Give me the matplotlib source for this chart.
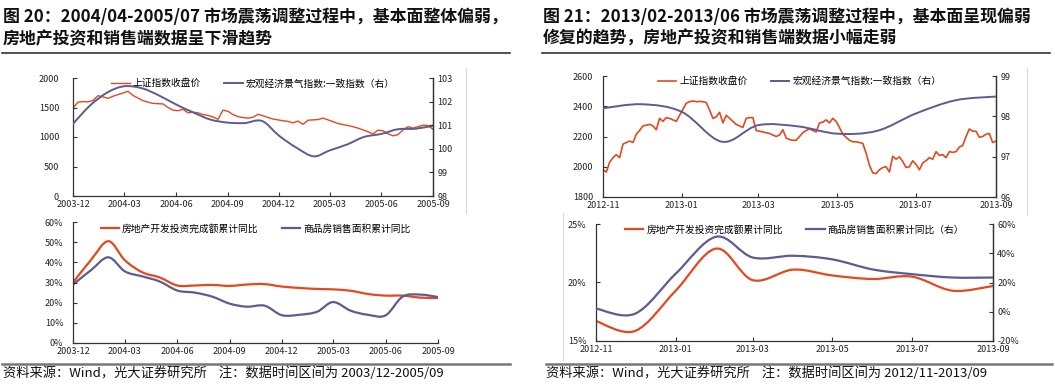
import numpy as np
import pandas as pd
import matplotlib
matplotlib.use('Agg')
import matplotlib.pyplot as plt
import matplotlib.dates as mdates
from matplotlib.path import Path
from matplotlib.patches import PathPatch
from matplotlib.lines import Line2D
from matplotlib.ticker import FuncFormatter, MultipleLocator

plt.rcParams['font.family'] = ['Noto Sans CJK SC', 'DejaVu Sans']

W, H = 1055, 386
RED = '#e2491f'
BLUE = '#5d5b8f'
TXT = '#222222'

# ---------------- data: figure 20 (2003-12 .. 2005-09) ----------------
sse_left = [1490, 1590, 1600, 1595, 1620, 1700, 1680, 1655, 1690, 1720, 1745, 1775,
            1705, 1660, 1615, 1590, 1570, 1565, 1560, 1500, 1455, 1445, 1470, 1410,
            1420, 1410, 1380, 1365, 1340, 1300, 1455, 1435, 1380, 1345, 1330, 1320,
            1335, 1385, 1360, 1330, 1305, 1290, 1275, 1265, 1240, 1270, 1215, 1285,
            1290, 1295, 1320, 1290, 1260, 1230, 1210, 1195, 1175, 1150, 1120, 1090,
            1050, 1115, 1105, 1055, 1020, 1040, 1120, 1175, 1150, 1175, 1200, 1195, 1130]
macro_left = [101.06, 101.85, 102.40, 102.65, 102.57, 102.27, 101.88, 101.55, 101.24,
              101.11, 101.09, 101.18, 100.56, 100.05, 99.68, 99.93, 100.18, 100.50,
              100.63, 100.83, 100.85, 100.98]
invest_left = [30, 41, 50.5, 41, 35, 32.5, 28.5, 28.5, 28.8, 28.3, 29, 29.2, 28, 27.3,
               26.8, 26.6, 25.9, 24.3, 23.5, 23.5, 22.5, 22.3]
sales_left = [29, 36, 42.5, 35.5, 33, 30.5, 26, 25, 23, 19.5, 18, 18.5, 13.8, 14, 15.5,
              20.3, 16, 14, 13.7, 23, 24, 22.8]

# ---------------- data: figure 21 (2012-11 .. 2013-09) ----------------
sse_right = [1980, 1965, 2030, 2060, 2080, 2060, 2150, 2160, 2170, 2160, 2215, 2240,
             2270, 2275, 2280, 2270, 2245, 2320, 2300, 2325, 2320, 2310, 2300, 2340,
             2380, 2420, 2430, 2435, 2430, 2432, 2430, 2425, 2375, 2320, 2330, 2360,
             2290, 2340, 2320, 2300, 2280, 2270, 2260, 2320, 2325, 2325, 2240, 2235,
             2230, 2225, 2220, 2210, 2200, 2210, 2245, 2190, 2180, 2175, 2175, 2200,
             2225, 2240, 2250, 2240, 2230, 2290, 2295, 2310, 2290, 2320, 2300, 2260,
             2215, 2195, 2175, 2165, 2165, 2160, 2155, 2090, 2010, 1960, 1955, 1980,
             1995, 2000, 1965, 2070, 2050, 2065, 2035, 1995, 2000, 2040, 2015, 1980,
             2025, 2040, 2060, 2050, 2100, 2075, 2080, 2060, 2100, 2095, 2100, 2130,
             2140, 2200, 2250, 2235, 2235, 2195, 2200, 2215, 2220, 2160, 2170]
macro_right = [98.20, 98.30, 98.11, 97.37, 97.78, 97.75, 97.57, 97.64, 98.07, 98.40, 98.49]
invest_right = [16.7, 15.86, 19.3, 22.9, 20.2, 21.1, 20.6, 20.3, 20.5, 19.3, 19.7]
sales_right = [2.2, -1.3, 26, 51.3, 37.1, 38.3, 35.8, 28.9, 25.7, 23.4, 23.4]

months_left = pd.date_range('2003-12-01', periods=len(macro_left), freq='MS')
months_right = pd.date_range('2012-11-01', periods=len(macro_right), freq='MS')
days_left = pd.date_range('2003-12-01', '2005-09-01', periods=len(sse_left))
days_right = pd.date_range('2012-11-01', '2013-09-01', periods=len(sse_right))
ticks_left = pd.date_range('2003-12-01', '2005-09-01', freq='3MS')
ticks_right = pd.date_range('2012-11-01', '2013-09-01', freq='2MS')

fig = plt.figure(figsize=(W / 100, H / 100), dpi=100)


def rect(x0, y0, x1, y1):
    return [x0 / W, 1 - y1 / H, (x1 - x0) / W, (y1 - y0) / H]


def hline(x0, x1, y, color, lw):
    fig.add_artist(Line2D([x0 / W, x1 / W], [1 - y / H, 1 - y / H], color=color, lw=lw))


def vline(x, y0, y1, color, lw):
    fig.add_artist(Line2D([x / W, x / W], [1 - y0 / H, 1 - y1 / H], color=color, lw=lw))


def smooth(ax, dates, vals, color, lw):
    # Excel-style smoothed line drawn as cubic bezier through the monthly points
    x = mdates.date2num(pd.to_datetime(dates))
    y = np.asarray(vals, float)
    n = len(x)
    verts = [(x[0], y[0])]
    codes = [Path.MOVETO]
    for i in range(n - 1):
        a = i - 1 if i > 0 else i
        b = i + 2 if i + 2 < n else i + 1
        verts.append((x[i] + (x[i + 1] - x[a]) / 6, y[i] + (y[i + 1] - y[a]) / 6))
        verts.append((x[i + 1] - (x[b] - x[i]) / 6, y[i + 1] - (y[b] - y[i]) / 6))
        verts.append((x[i + 1], y[i + 1]))
        codes += [Path.CURVE4] * 3
    ax.add_patch(PathPatch(Path(verts, codes), fc='none', ec=color, lw=lw,
                           joinstyle='round', capstyle='round'))
    return Line2D([], [], color=color, lw=lw)


def style(ax, ticks, xlim, left_pad=5, right=False):
    ax.set_xlim(xlim)
    ax.set_xticks(ticks)
    ax.xaxis.set_major_formatter(mdates.DateFormatter('%Y-%m'))
    ax.spines['top'].set_visible(False)
    ax.spines['right'].set_visible(right)
    for s in ax.spines.values():
        s.set_color('#333333')
        s.set_linewidth(0.9)
    ax.tick_params(direction='in', length=3, width=0.8, colors='#333333',
                   labelsize=6.5, labelcolor=TXT)
    ax.tick_params(axis='y', pad=left_pad)
    ax.tick_params(axis='x', pad=3)
    ax.set_facecolor('none')


def style_twin(ax2):
    for s in ax2.spines.values():
        s.set_visible(False)
    ax2.spines['right'].set_visible(True)
    ax2.spines['right'].set_color('#333333')
    ax2.spines['right'].set_linewidth(0.9)
    ax2.tick_params(direction='in', length=3, width=0.8, colors='#333333',
                    labelsize=6.5, labelcolor=TXT, pad=3)


def legend(ax, handles, labels, y):
    ax.legend(handles, labels, loc='upper center', bbox_to_anchor=(0.5, y), ncol=2,
              frameon=False, fontsize=7, handlelength=1.9, handletextpad=0.3,
              columnspacing=2.4, borderaxespad=0)


pct = FuncFormatter(lambda v, p: f'{v:.0f}%')

# ---------------- figure 20, top ----------------
xl = (pd.Timestamp('2003-12-01'), pd.Timestamp('2005-09-01'))
ax = fig.add_axes(rect(73, 78, 433, 196))
style(ax, ticks_left, xl, left_pad=10, right=True)
ax.set_ylim(0, 2000)
ax.yaxis.set_major_locator(MultipleLocator(500))
h1, = ax.plot(days_left, sse_left, color=RED, lw=1.0)
ax2 = ax.twinx()
style_twin(ax2)
ax2.set_xlim(xl)
ax2.set_ylim(98, 103)
ax2.yaxis.set_major_locator(MultipleLocator(1))
h2 = smooth(ax2, months_left, macro_left, BLUE, 1.4)
legend(ax2, [h1, h2], ['上证指数收盘价', '宏观经济景气指数:一致指数（右）'], 1.03)

# ---------------- figure 20, bottom ----------------
ax = fig.add_axes(rect(73, 222, 438, 343))
style(ax, ticks_left, xl, left_pad=7)
ax.set_ylim(0, 60)
ax.yaxis.set_major_locator(MultipleLocator(10))
ax.yaxis.set_major_formatter(pct)
h1 = smooth(ax, months_left, invest_left, RED, 1.6)
h2 = smooth(ax, months_left, sales_left, BLUE, 1.6)
legend(ax, [h1, h2], ['房地产开发投资完成额累计同比', '商品房销售面积累计同比'], 1.02)

# ---------------- figure 21, top ----------------
xr = (pd.Timestamp('2012-11-01'), pd.Timestamp('2013-09-01'))
ax = fig.add_axes(rect(603, 76, 996, 197))
style(ax, ticks_right, xr, left_pad=7, right=True)
ax.set_ylim(1800, 2600)
ax.yaxis.set_major_locator(MultipleLocator(200))
h1, = ax.plot(days_right, sse_right, color=RED, lw=1.2)
ax2 = ax.twinx()
style_twin(ax2)
ax2.set_xlim(xr)
ax2.set_ylim(96, 99)
ax2.yaxis.set_major_locator(MultipleLocator(1))
h2 = smooth(ax2, months_right, macro_right, BLUE, 1.4)
legend(ax2, [h1, h2], ['上证指数收盘价', '宏观经济景气指数:一致指数（右）'], 1.03)

# ---------------- figure 21, bottom ----------------
ax = fig.add_axes(rect(596, 224, 993, 341))
style(ax, ticks_right, xr, left_pad=7, right=True)
ax.set_ylim(15, 25)
ax.yaxis.set_major_locator(MultipleLocator(5))
ax.yaxis.set_major_formatter(pct)
h1 = smooth(ax, months_right, invest_right, RED, 1.6)
ax2 = ax.twinx()
style_twin(ax2)
ax2.set_xlim(xr)
ax2.set_ylim(-20, 60)
ax2.yaxis.set_major_locator(MultipleLocator(20))
ax2.yaxis.set_major_formatter(pct)
h2 = smooth(ax2, months_right, sales_right, BLUE, 1.6)
legend(ax2, [h1, h2], ['房地产开发投资完成额累计同比', '商品房销售面积累计同比（右）'], 1.03)

# ---------------- titles, rules and notes ----------------
tkw = dict(fontsize=12.2, fontweight='bold', color='#111111', va='center', ha='left')
fig.text(3 / W, 1 - 17 / H, '图 20：2004/04-2005/07 市场震荡调整过程中，基本面整体偏弱，', **tkw)
fig.text(3 / W, 1 - 39 / H, '房地产投资和销售端数据呈下滑趋势', **tkw)
fig.text(543 / W, 1 - 17 / H, '图 21：2013/02-2013/06 市场震荡调整过程中，基本面呈现偏弱', **tkw)
fig.text(543 / W, 1 - 39 / H, '修复的趋势，房地产投资和销售端数据小幅走弱', **tkw)

hline(2, 510, 53, '#333333', 1.2)
hline(542, 1050, 53, '#333333', 1.2)
hline(2, 510, 364, '#777777', 1.8)
hline(546, 1052, 364, '#777777', 1.8)

vline(466, 68, 213, '#d9d9d9', 0.8)
vline(1027, 68, 215, '#d9d9d9', 0.8)
vline(563, 213, 360, '#d9d9d9', 0.8)

nkw = dict(fontsize=9.5, color='#111111', va='center', ha='left')
fig.text(3 / W, 1 - 373 / H, '资料来源：Wind，光大证券研究所    注：数据时间区间为 2003/12-2005/09', **nkw)
fig.text(546 / W, 1 - 373 / H, '资料来源：Wind，光大证券研究所    注：数据时间区间为 2012/11-2013/09', **nkw)

fig.savefig('out.png', dpi=100, facecolor='white')
